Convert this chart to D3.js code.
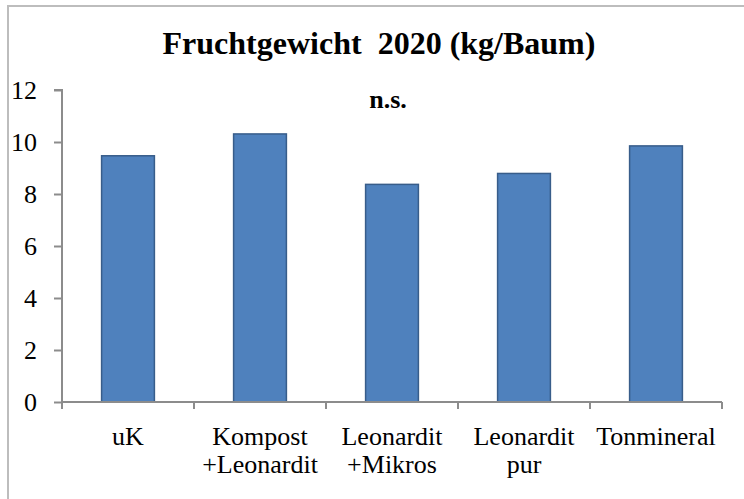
<html>
    <head>
        <style>
            body { margin: 0; background: #fff; }
        </style>
        <script src="https://cdnjs.cloudflare.com/ajax/libs/d3/7.8.5/d3.min.js"></script>
    </head>
    <body>
        <script>
            // categories (two lines each) and values
            const categories = ['uK', 'Kompost +Leonardit', 'Leonardit +Mikros', 'Leonardit pur', 'Tonmineral'];
            const labelLines = [['uK'], ['Kompost', '+Leonardit'], ['Leonardit', '+Mikros'], ['Leonardit', 'pur'], ['Tonmineral']];
            const fruitWeight = [9.47, 10.31, 8.37, 8.79, 9.85];
            const yTicks = [0, 2, 4, 6, 8, 10, 12];

            const serif = 'Liberation Serif';
            const width = 744;
            const height = 499;
            const margin = { top: 90, right: 22, bottom: 97, left: 62 };

            const svg = d3.select('body').append('svg')
                .attr('width', width)
                .attr('height', height)
                .style('font-family', serif);

            // chart border (only left and top show in the picture)
            svg.append('rect')
                .attr('x', 8)
                .attr('y', 6)
                .attr('width', 760)
                .attr('height', 520)
                .style('fill', 'none')
                .style('stroke', '#bdbdbd')
                .style('stroke-width', 2);

            const x = d3.scaleBand()
                .domain(categories)
                .range([margin.left, width - margin.right])
                .padding(0);

            const y = d3.scaleLinear()
                .domain([0, 12])
                .range([height - margin.bottom, margin.top]);

            // title
            svg.append('text')
                .attr('x', 379)
                .attr('y', 54)
                .attr('text-anchor', 'middle')
                .attr('xml:space', 'preserve')
                .style('font-family', serif)
                .style('font-size', '32px')
                .style('font-weight', 'bold')
                .text('Fruchtgewicht  2020 (kg/Baum)');

            svg.append('text')
                .attr('x', 388)
                .attr('y', 108)
                .attr('text-anchor', 'middle')
                .style('font-family', serif)
                .style('font-size', '26px')
                .style('font-weight', 'bold')
                .text('n.s.');

            // bars
            const barW = x.bandwidth() * 0.4;
            svg.selectAll('.bar')
                .data(fruitWeight)
                .enter().append('rect')
                .attr('class', 'bar')
                .attr('x', (d, i) => x(categories[i]) + (x.bandwidth() - barW) / 2)
                .attr('y', d => y(d))
                .attr('width', barW)
                .attr('height', d => y(0) - y(d))
                .style('fill', '#4f81bd')
                .style('stroke', '#385d8a')
                .style('stroke-width', 1.5);

            // y axis
            const yAxis = svg.append('g')
                .attr('transform', `translate(${margin.left},0)`)
                .call(d3.axisLeft(y).tickValues(yTicks).tickSize(8).tickPadding(17).tickFormat(d3.format('d')));
            yAxis.attr('font-family', null).attr('font-size', null);
            yAxis.selectAll('line, path').style('stroke', '#8c8c8c').style('stroke-width', 2);
            yAxis.select('.domain').attr('d', `M-8,${y(12)}H0V${y(0)}`);
            yAxis.selectAll('text')
                .style('font-family', serif)
                .style('font-size', '26px')
                .style('fill', '#000');

            // x axis with boundary ticks
            const xAxis = svg.append('g')
                .attr('transform', `translate(0,${y(0)})`);
            const bounds = categories.map(c => x(c)).concat([x(categories[categories.length - 1]) + x.bandwidth()]);
            xAxis.append('line')
                .attr('x1', margin.left)
                .attr('x2', width - margin.right)
                .style('stroke', '#8c8c8c')
                .style('stroke-width', 2);
            xAxis.selectAll('.xtick')
                .data(bounds)
                .enter().append('line')
                .attr('class', 'xtick')
                .attr('x1', d => d)
                .attr('x2', d => d)
                .attr('y1', 0)
                .attr('y2', 7)
                .style('stroke', '#8c8c8c')
                .style('stroke-width', 2);

            const labels = xAxis.selectAll('.xlabel')
                .data(categories)
                .enter().append('text')
                .attr('class', 'xlabel')
                .attr('text-anchor', 'middle')
                .style('font-family', serif)
                .style('font-size', '26px');
            labels.each(function (d, i) {
                const t = d3.select(this);
                labelLines[i].forEach((line, j) => {
                    t.append('tspan')
                        .attr('x', x(d) + x.bandwidth() / 2)
                        .attr('y', 43 + j * 28)
                        .text(line);
                });
            });
        </script>
    </body>
</html>
